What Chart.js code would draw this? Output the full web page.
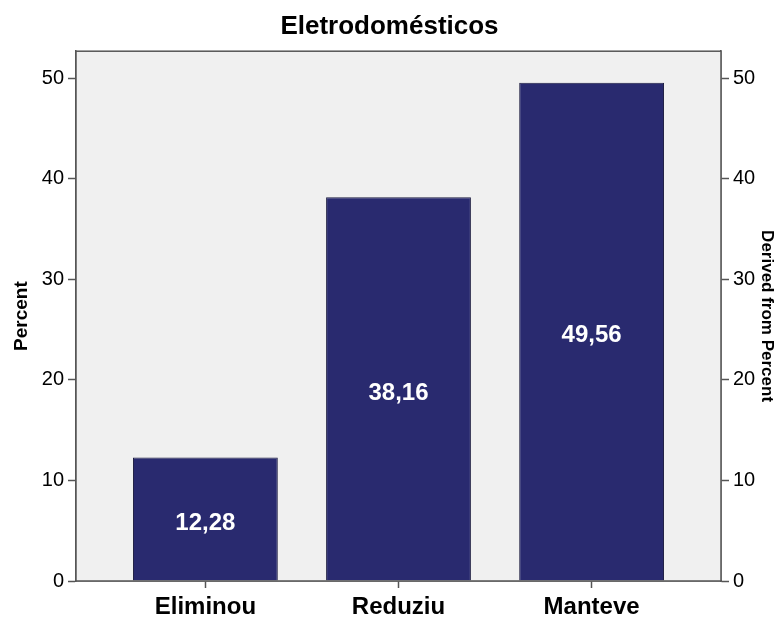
<!DOCTYPE html>
<html>
<head>
<meta charset="utf-8">
<script src="https://cdn.jsdelivr.net/npm/chart.js@4/dist/chart.umd.min.js"></script>
<style>
  html, body { margin: 0; padding: 0; background: #fff; }
  #wrap { width: 779px; height: 621px; }
</style>
</head>
<body>
<div id="wrap"><canvas id="chart" width="779" height="621"></canvas></div>
<script>
const categories = ['Eliminou', 'Reduziu', 'Manteve'];
const percents = [12.28, 38.16, 49.56];
const yTicks = [0, 10, 20, 30, 40, 50];

const AXIS = '#555';
const FONT = "'Liberation Sans', Arial, sans-serif";

// gray plot background plus the frame around it
const plotFrame = {
    id: 'plotFrame',
    beforeDatasetsDraw(chart) {
        const a = chart.chartArea, ctx = chart.ctx;
        ctx.save();
        ctx.fillStyle = '#f0f0f0';
        ctx.fillRect(a.left, a.top, a.right - a.left, a.bottom - a.top);
        ctx.restore();
    },
    afterDraw(chart) {
        const a = chart.chartArea, ctx = chart.ctx;
        ctx.save();
        ctx.strokeStyle = AXIS;
        ctx.lineWidth = 1.5;
        ctx.strokeRect(a.left, a.top, a.right - a.left, a.bottom - a.top);
        ctx.restore();
    }
};

// value written in the middle of each bar, comma decimal
const barValues = {
    id: 'barValues',
    afterDatasetsDraw(chart) {
        const ctx = chart.ctx;
        const meta = chart.getDatasetMeta(0);
        ctx.save();
        ctx.fillStyle = '#fff';
        ctx.font = 'bold 24px ' + FONT;
        ctx.textAlign = 'center';
        ctx.textBaseline = 'middle';
        meta.data.forEach((bar, i) => {
            const y = (bar.y + bar.base) / 2 + 4;
            ctx.fillText(percents[i].toFixed(2).replace('.', ','), bar.x, y);
        });
        ctx.restore();
    }
};

const yScale = (position, title, titleSize, titlePad) => ({
    position: position,
    min: 0,
    max: 52.7,
    afterBuildTicks: s => { s.ticks = yTicks.map(v => ({ value: v })); },
    ticks: { color: '#000', font: { family: FONT, size: 20 }, padding: 4 },
    grid: { drawOnChartArea: false, drawTicks: true, tickLength: 8, tickColor: AXIS, tickWidth: 1.5 },
    border: { display: true, color: AXIS, width: 1.5 },
    title: {
        display: true, text: title, color: '#000',
        font: { family: FONT, size: titleSize, weight: 'bold' },
        padding: titlePad
    },
    afterFit: s => { s.width = position === 'left' ? 76 : 58; }
});

new Chart(document.getElementById('chart'), {
    type: 'bar',
    data: {
        datasets: [{
            data: percents.map((v, i) => ({ x: i, y: v })),
            backgroundColor: '#292a6f',
            borderColor: '#1c1c40',
            borderWidth: 1,
            categoryPercentage: 1,
            barPercentage: 0.75,
            yAxisID: 'y'
        }]
    },
    options: {
        responsive: false,
        animation: false,
        layout: { padding: 0 },
        plugins: {
            legend: { display: false },
            tooltip: { enabled: false },
            title: {
                display: true,
                text: 'Eletrodomésticos',
                color: '#000',
                font: { family: FONT, size: 26, weight: 'bold' },
                padding: { top: 11, bottom: 9 }
            }
        },
        scales: {
            x: {
                type: 'linear',
                offset: false,
                min: -0.67,
                max: 2.67,
                afterBuildTicks: s => { s.ticks = categories.map((c, i) => ({ value: i })); },
                ticks: {
                    color: '#000',
                    font: { family: FONT, size: 24, weight: 'bold' },
                    padding: 5,
                    autoSkip: false,
                    maxRotation: 0,
                    callback: v => categories[v]
                },
                grid: { offset: false, drawOnChartArea: false, drawTicks: true, tickLength: 7, tickColor: AXIS, tickWidth: 1.5 },
                border: { display: true, color: AXIS, width: 1.5 },
                afterFit: s => { s.height = 40; }
            },
            y: yScale('left', 'Percent', 19, 10),
            y2: yScale('right', 'Derived from Percent', 17, 2)
        }
    },
    plugins: [plotFrame, barValues]
});
</script>
</body>
</html>
